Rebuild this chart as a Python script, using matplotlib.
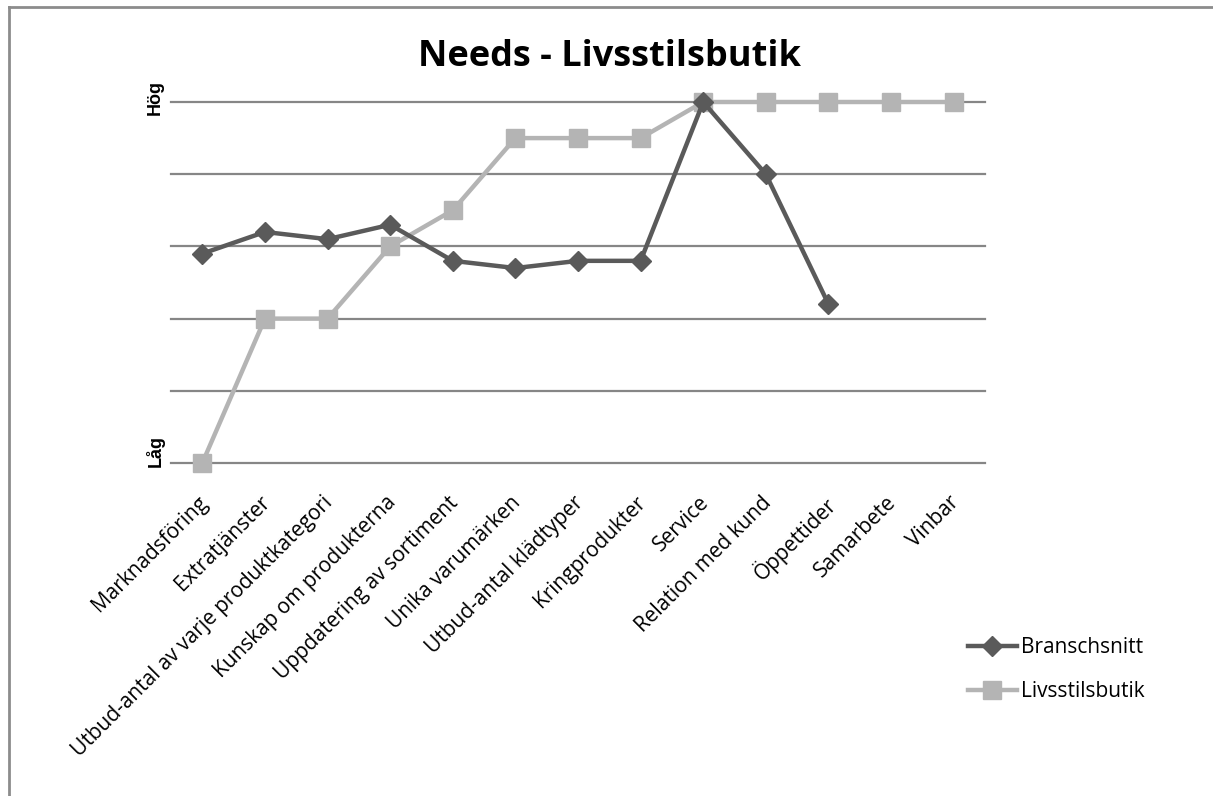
import matplotlib
matplotlib.use("Agg")
import matplotlib.pyplot as plt
import matplotlib.transforms as mtransforms
from matplotlib.lines import Line2D

# data (0 = Låg, 5 = Hög)
categories = [
    "Marknadsföring", "Extratjänster", "Utbud-antal av varje produktkategori",
    "Kunskap om produkterna", "Uppdatering av sortiment", "Unika varumärken",
    "Utbud-antal klädtyper", "Kringprodukter", "Service", "Relation med kund",
    "Öppettider", "Samarbete", "Vinbar",
]
branschsnitt = [2.9, 3.2, 3.1, 3.3, 2.8, 2.7, 2.8, 2.8, 5.0, 4.0, 2.2]
livsstilsbutik = [0, 2, 2, 3, 3.5, 4.5, 4.5, 4.5, 5, 5, 5, 5, 5]
ytick_vals = [0, 5]
ytick_labels = ["Låg", "Hög"]

W, H = 1213, 796
fig = plt.figure(figsize=(W / 100, H / 100), dpi=100)

# plot area in pixel coordinates of the reference
left, right, top, bottom = 171, 985, 102, 463
ax = fig.add_axes([left / W, 1 - bottom / H, (right - left) / W, (bottom - top) / H])

dark = "#5a5a5a"
light = "#b4b4b4"
grid = "#868686"

ax.plot(range(len(livsstilsbutik)), livsstilsbutik, color=light, lw=3.2,
        marker="s", markersize=12.5, label="Livsstilsbutik", clip_on=False, zorder=3)
ax.plot(range(len(branschsnitt)), branschsnitt, color=dark, lw=3.2,
        marker="D", markersize=10, label="Branschsnitt", clip_on=False, zorder=4)

ax.set_xlim(-0.5, len(categories) - 0.5)
ax.set_ylim(0, 5)
for s in ax.spines.values():
    s.set_visible(False)

# horizontal gridlines
ax.set_yticks([0, 1, 2, 3, 4, 5])
ax.set_yticklabels([])
ax.yaxis.grid(True, color=grid, lw=1.6)
ax.set_axisbelow(True)
ax.tick_params(axis="y", length=0)
for gl in ax.get_ygridlines():
    gl.set_clip_on(False)

# Låg / Hög labels, a bit above their gridline like in the reference
ytrans = mtransforms.blended_transform_factory(fig.transFigure, ax.transData)
lift = {"Låg": 12, "Hög": 4.5}
for val, lab in zip(ytick_vals, ytick_labels):
    t = ytrans + mtransforms.ScaledTranslation(0, lift[lab] / 100, fig.dpi_scale_trans)
    ax.text(155 / W, val, lab, transform=t, rotation=90, ha="center", va="center",
            fontsize=13, fontweight="bold", family="Liberation Sans")

ax.set_xticks(range(len(categories)))
ax.set_xticklabels(categories, rotation=45, ha="right", rotation_mode="anchor",
                   fontsize=15, family="Open Sans")
ax.tick_params(axis="x", length=0, pad=21)
shift = mtransforms.ScaledTranslation(-0.05, 0, fig.dpi_scale_trans)
for lbl in ax.get_xticklabels():
    lbl.set_transform(lbl.get_transform() + shift)

fig.text(609 / W, 1 - 57 / H, "Needs - Livsstilsbutik", ha="center", va="center",
         fontsize=26, fontweight="bold", family="Open Sans")

handles = [Line2D([], [], color=dark, lw=3.2, marker="D", markersize=10),
           Line2D([], [], color=light, lw=3.2, marker="s", markersize=12.5)]
fig.legend(handles, ["Branschsnitt", "Livsstilsbutik"], loc="upper left",
           bbox_to_anchor=(968 / W, 1 - 637 / H), frameon=False,
           prop={"family": "Open Sans", "size": 15}, handlelength=2.35,
           handletextpad=0.2, labelspacing=1.1, borderpad=0, borderaxespad=0)

# chart area border (only top and left are visible in the reference)
fig.add_artist(Line2D([9 / W, 1], [1 - 7 / H, 1 - 7 / H], color="#8c8c8c", lw=2))
fig.add_artist(Line2D([9 / W, 9 / W], [0, 1 - 7 / H], color="#8c8c8c", lw=2))

fig.savefig("out.png", dpi=100, facecolor="white")
